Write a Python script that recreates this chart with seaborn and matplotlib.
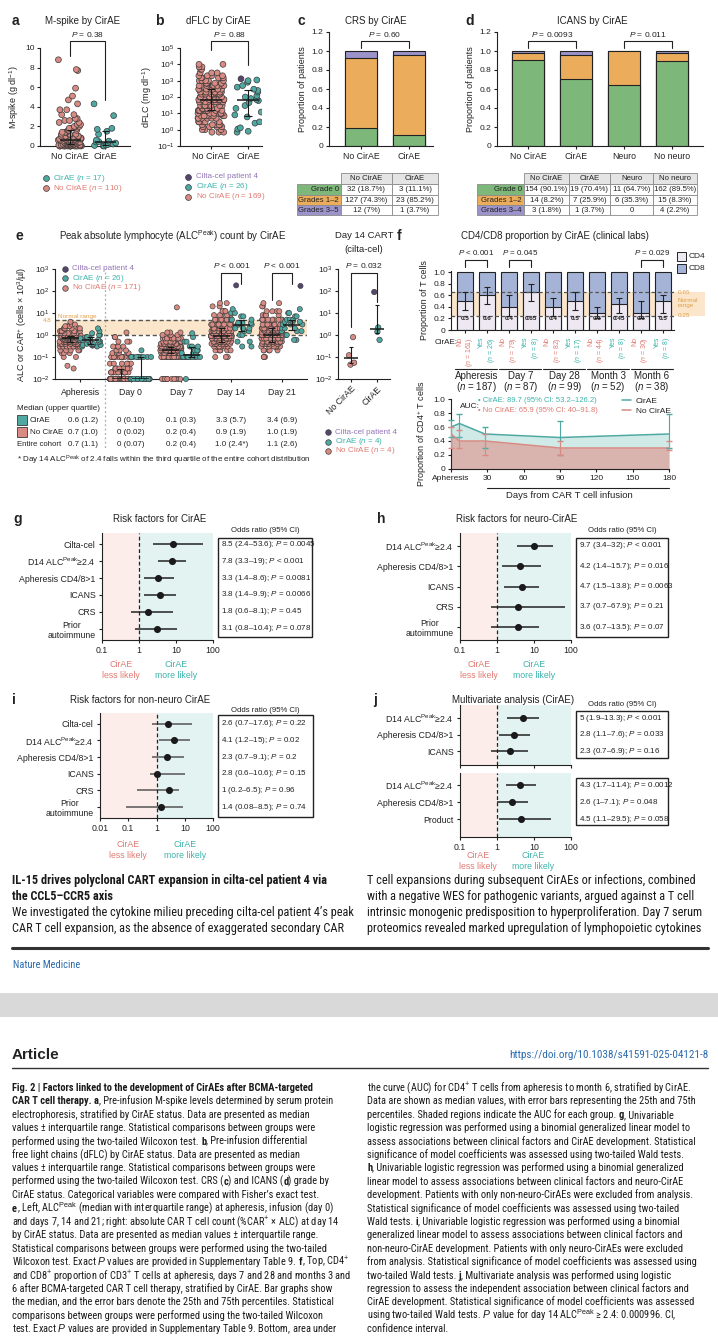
import numpy as np
import pandas as pd
import matplotlib
matplotlib.use("Agg")
import matplotlib.pyplot as plt
import matplotlib.colors as mcolors
import matplotlib.ticker as mticker
from matplotlib.lines import Line2D
from matplotlib.patches import Rectangle
from matplotlib.transforms import blended_transform_factory as blend
from matplotlib import font_manager
import seaborn as sns

W, H = 718, 1338

# colours
ROSE, ROSE_T = "#D98A82", "#E07A72"
TEAL, TEAL_T = "#4FA9A2", "#3DB3AB"
PURP, PURP_T = "#55466F", "#9275B8"
EDGE = "#3a3a3a"
G0C, G12C, G35C = "#7DB77A", "#EBAD5C", "#9C93CB"
CD4C, CD8C = "#EEE8F2", "#A5B3D7"
NORM, NORM_T = "#FBE6CB", "#E0A048"
PINK_BG, TEAL_BG = "#FCEDEA", "#E2F3F1"

# ---------------- data ----------------
# a: M-spike (g/dl)
a_no_vals = [0.0, 0.1, 0.2, 0.3, 0.4, 0.5, 0.6, 0.7, 0.8, 1.0, 1.2, 1.4, 1.6, 1.8,
             2.0, 2.2, 2.4, 2.6, 2.8, 3.2, 3.7, 4.3, 4.7, 5.1, 5.9, 7.7, 7.8, 8.8]
a_no_counts = [17, 10, 8, 7, 6, 6, 5, 5, 4, 5, 4, 4, 3, 3, 3, 2, 2, 2, 2, 2, 2,
               1, 1, 1, 1, 1, 1, 1]
a_yes = [0.0, 0.0, 0.05, 0.1, 0.15, 0.2, 0.3, 0.4, 0.45, 0.5, 0.6, 1.2, 1.5, 1.7,
         1.8, 3.1, 4.3]

# b: dFLC (mg/dl)
b_no_vals = [0.7, 1, 1.5, 2, 3, 5, 7, 10, 15, 20, 30, 50, 70, 100, 150, 200, 300,
             500, 700, 1000, 1500, 2000, 3000, 5000, 7000, 10000]
b_no_counts = [3, 3, 4, 5, 5, 7, 7, 8, 9, 9, 10, 11, 11, 10, 10, 9, 9, 8, 7, 6, 5,
               4, 3, 2, 2, 2]
b_yes = [0.7, 0.8, 1.1, 1.3, 2.5, 3, 6, 8, 12, 20, 30, 45, 60, 70, 80, 100, 120,
         200, 250, 300, 400, 500, 800, 1000, 1100, 1300]
b_patient = [1300]

# c / d: CRS and ICANS grades (patients)
c_groups = ["No CirAE", "CirAE"]
c_grade0 = [32, 3]
c_grade12 = [127, 23]
c_grade35 = [12, 1]
d_groups = ["No CirAE", "CirAE", "Neuro", "No neuro"]
d_grade0 = [154, 19, 11, 162]
d_grade12 = [14, 7, 6, 15]
d_grade34 = [3, 1, 0, 4]

# e: ALC peak (value -> count), per timepoint
e_times = ["Apheresis", "Day 0", "Day 7", "Day 14", "Day 21"]
e_no = {
    "Apheresis": ([0.03, 0.04, 0.1, 0.15, 0.2, 0.3, 0.4, 0.5, 0.6, 0.7, 0.8, 0.9, 1.0,
                   1.2, 1.5, 2.0, 2.5, 3.0, 4.0],
                  [1, 1, 2, 3, 5, 10, 14, 18, 20, 22, 20, 15, 12, 10, 7, 5, 3, 2, 1]),
    "Day 0": ([0.01, 0.02, 0.03, 0.05, 0.1, 0.15, 0.2, 0.3, 0.5, 0.8, 1.3],
              [110, 15, 8, 6, 12, 5, 5, 4, 3, 2, 1]),
    "Day 7": ([0.01, 0.1, 0.15, 0.2, 0.25, 0.3, 0.4, 0.5, 0.7, 1.0, 1.3, 18],
              [12, 30, 25, 25, 20, 18, 15, 10, 8, 4, 3, 1]),
    "Day 14": ([0.1, 0.2, 0.3, 0.4, 0.5, 0.7, 0.9, 1.2, 1.5, 2, 3, 5, 8, 12, 20, 28],
               [3, 6, 10, 12, 15, 20, 22, 20, 16, 14, 12, 8, 5, 4, 2, 2]),
    "Day 21": ([0.1, 0.2, 0.3, 0.4, 0.5, 0.7, 1.0, 1.3, 1.6, 2, 3, 5, 8, 12, 20, 28],
               [3, 5, 9, 12, 15, 20, 24, 20, 16, 14, 12, 8, 5, 4, 2, 2]),
}
e_yes = {
    "Apheresis": ([0.3, 0.33, 0.35, 0.4, 0.5, 0.6, 0.7, 0.8, 1.0, 1.2, 1.5, 2.0],
                  [2, 1, 2, 3, 4, 4, 3, 2, 2, 1, 1, 1]),
    "Day 0": ([0.01, 0.1, 0.2], [15, 10, 1]),
    "Day 7": ([0.01, 0.1, 0.15, 0.2, 0.3, 0.5, 0.8, 1.2], [1, 12, 3, 3, 3, 2, 1, 1]),
    "Day 14": ([0.3, 0.5, 1.0, 1.5, 2.0, 3.0, 3.5, 5.0, 7.0, 10.0, 15.0, 180],
               [2, 2, 2, 2, 3, 3, 3, 3, 2, 2, 1, 1]),
    "Day 21": ([0.6, 1.0, 1.5, 2.0, 3.0, 4.0, 5.0, 7.0, 10.0, 15.0, 170],
               [2, 2, 3, 3, 4, 3, 3, 2, 2, 1, 1]),
}
e_patient = [0.33, 180, 170]
e_tab_cir = ["0.6 (1.2)", "0 (0.10)", "0.1 (0.3)", "3.3 (5.7)", "3.4 (6.9)"]
e_tab_no = ["0.7 (1.0)", "0 (0.02)", "0.2 (0.4)", "0.9 (1.9)", "1.0 (1.9)"]
e_tab_all = ["0.7 (1.1)", "0 (0.07)", "0.2 (0.4)", "1.0 (2.4*)", "1.1 (2.6)"]
# e right: day 14 CAR T count
er_no = [0.045, 0.055, 0.12, 0.8]
er_yes = [0.6, 1.4, 2.2, 90]
er_patient = [90]

# f top: CD4 proportion (median, quartiles)
f_groups = ["Apheresis", "Day 7", "Day 28", "Month 3", "Month 6"]
f_group_n = [187, 87, 99, 52, 38]
f_no_n = [161, 79, 82, 44, 30]
f_yes_n = [26, 8, 17, 8, 8]
f_cd4_no = [0.5, 0.4, 0.4, 0.3, 0.3]
f_cd4_yes = [0.6, 0.65, 0.5, 0.45, 0.5]
f_q1_no = [0.35, 0.25, 0.25, 0.2, 0.2]
f_q3_no = [0.65, 0.6, 0.55, 0.4, 0.5]
f_q1_yes = [0.45, 0.5, 0.35, 0.3, 0.3]
f_q3_yes = [0.75, 0.8, 0.65, 0.55, 0.6]
# f bottom: CD4 over time
f_days = [0, 7, 28, 90, 180]
f_cir_med = [0.6, 0.65, 0.5, 0.45, 0.5]
f_cir_lo = [0.45, 0.45, 0.3, 0.2, 0.3]
f_cir_hi = [0.7, 0.78, 0.6, 0.68, 0.78]
f_nocir_med = [0.5, 0.4, 0.4, 0.3, 0.3]
f_nocir_lo = [0.3, 0.3, 0.2, 0.2, 0.27]
f_nocir_hi = [0.6, 0.55, 0.5, 0.4, 0.4]

# g-j: odds ratios
D14 = "D14 ALC$^{\\rm Peak}$≥2.4"
g_labels = ["Cilta-cel", D14, "Apheresis CD4/8>1", "ICANS", "CRS", "Prior\nautoimmune"]
g_or = [8.5, 7.8, 3.3, 3.8, 1.8, 3.1]
g_lo = [2.4, 3.3, 1.4, 1.4, 0.6, 0.8]
g_hi = [53.6, 19, 8.6, 9.9, 8.1, 10.4]
g_p = ["= 0.0045", "< 0.001", "= 0.0081", "= 0.0066", "= 0.45", "= 0.078"]

h_labels = [D14, "Apheresis CD4/8>1", "ICANS", "CRS", "Prior\nautoimmune"]
h_or = [9.7, 4.2, 4.7, 3.7, 3.6]
h_lo = [3.4, 1.4, 1.5, 0.7, 0.7]
h_hi = [32, 15.7, 13.8, 67.9, 13.5]
h_p = ["< 0.001", "= 0.016", "= 0.0063", "= 0.21", "= 0.07"]

i_labels = g_labels
i_or = [2.6, 4.1, 2.3, 1, 2.8, 1.4]          # as plotted
i_or_txt = [2.6, 4.1, 2.3, 2.8, 1, 1.4]      # as printed in the box
i_lo = [0.7, 1.2, 0.7, 0.6, 0.2, 0.08]
i_hi = [17.6, 15, 9.1, 10.6, 6.5, 8.5]
i_p = ["= 0.22", "= 0.02", "= 0.2", "= 0.15", "= 0.96", "= 0.74"]

j1_labels = [D14, "Apheresis CD4/8>1", "ICANS"]
j1_or = [5, 2.8, 2.3]
j1_lo = [1.9, 1.1, 0.7]
j1_hi = [13.3, 7.6, 6.9]
j1_p = ["< 0.001", "= 0.033", "= 0.16"]
j2_labels = [D14, "Apheresis CD4/8>1", "Product"]
j2_or = [4.3, 2.6, 4.5]
j2_lo = [1.7, 1, 1.1]
j2_hi = [11.4, 7.1, 29.5]
j2_p = ["= 0.0012", "= 0.048", "= 0.058"]

# ---------------- text ----------------
body_left = ["**IL-15 drives polyclonal CART expansion in cilta-cel patient 4 via**",
             "**the CCL5–CCR5 axis**",
             "We investigated the cytokine milieu preceding cilta-cel patient 4’s peak",
             "CAR T cell expansion, as the absence of exaggerated secondary CAR"]
body_right = ["T cell expansions during subsequent CirAEs or infections, combined",
              "with a negative WES for pathogenic variants, argued against a T cell",
              "intrinsic monogenic predisposition to hyperproliferation. Day 7 serum",
              "proteomics revealed marked upregulation of lymphopoietic cytokines"]
cap_left = [
    "**Fig. 2 | Factors linked to the development of CirAEs after BCMA-targeted**",
    "**CAR T cell therapy. a**, Pre-infusion M-spike levels determined by serum protein",
    "electrophoresis, stratified by CirAE status. Data are presented as median",
    "values ± interquartile range. Statistical comparisons between groups were",
    "performed using the two-tailed Wilcoxon test. **b**, Pre-infusion differential",
    "free light chains (dFLC) by CirAE status. Data are presented as median",
    "values ± interquartile range. Statistical comparisons between groups were",
    "performed using the two-tailed Wilcoxon test. CRS (**c**) and ICANS (**d**) grade by",
    "CirAE status. Categorical variables were compared with Fisher’s exact test.",
    "**e**, Left, ALC$^{\\rm Peak}$ (median with interquartile range) at apheresis, infusion (day 0)",
    "and days 7, 14 and 21; right: absolute CAR T cell count (%CAR$^{+}$ × ALC) at day 14",
    "by CirAE status. Data are presented as median values ± interquartile range.",
    "Statistical comparisons between groups were performed using the two-tailed",
    "Wilcoxon test. Exact $P$ values are provided in Supplementary Table 9. **f**, Top, CD4$^{+}$",
    "and CD8$^{+}$ proportion of CD3$^{+}$ T cells at apheresis, days 7 and 28 and months 3 and",
    "6 after BCMA-targeted CAR T cell therapy, stratified by CirAE. Bar graphs show",
    "the median, and the error bars denote the 25th and 75th percentiles. Statistical",
    "comparisons between groups were performed using the two-tailed Wilcoxon",
    "test. Exact $P$ values are provided in Supplementary Table 9. Bottom, area under",
]
cap_right = [
    "the curve (AUC) for CD4$^{+}$ T cells from apheresis to month 6, stratified by CirAE.",
    "Data are shown as median values, with error bars representing the 25th and 75th",
    "percentiles. Shaded regions indicate the AUC for each group. **g**, Univariable",
    "logistic regression was performed using a binomial generalized linear model to",
    "assess associations between clinical factors and CirAE development. Statistical",
    "significance of model coefficients was assessed using two-tailed Wald tests.",
    "**h**, Univariable logistic regression was performed using a binomial generalized",
    "linear model to assess associations between clinical factors and neuro-CirAE",
    "development. Patients with only non-neuro-CirAEs were excluded from analysis.",
    "Statistical significance of model coefficients was assessed using two-tailed",
    "Wald tests. **i**, Univariable logistic regression was performed using a binomial",
    "generalized linear model to assess associations between clinical factors and",
    "non-neuro-CirAE development. Patients with only neuro-CirAEs were excluded",
    "from analysis. Statistical significance of model coefficients was assessed using",
    "two-tailed Wald tests. **j**, Multivariate analysis was performed using logistic",
    "regression to assess the independent association between clinical factors and",
    "CirAE development. Statistical significance of model coefficients was assessed",
    "using two-tailed Wald tests. $P$ value for day 14 ALC$^{\\rm Peak}$ ≥ 2.4: 0.000996. CI,",
    "confidence interval.",
]

# ---------------- setup ----------------
sns.set_theme(style="ticks")
plt.rcParams["font.family"] = ["Liberation Sans", "DejaVu Sans"]
plt.rcParams.update({
    "mathtext.fontset": "custom", "mathtext.rm": "Liberation Sans",
    "mathtext.it": "Liberation Sans:italic", "mathtext.bf": "Liberation Sans:bold",
    "axes.linewidth": 0.8, "axes.edgecolor": "#222222",
    "xtick.color": "#222222", "ytick.color": "#222222",
    "text.color": "#222222", "axes.labelcolor": "#222222",
})


def pick_narrow():
    names = {f.name for f in font_manager.fontManager.ttflist}
    for n in ("Liberation Sans Narrow", "DejaVu Sans Condensed", "Roboto Condensed",
              "Open Sans Condensed", "Noto Sans Condensed"):
        if n in names:
            return n, "normal"
    for pref in ("Noto Sans", "Open Sans", "Roboto", "DejaVu Sans"):
        for f in font_manager.fontManager.ttflist:
            if f.name == pref and str(f.stretch) in ("condensed", "semi-condensed") \
                    and f.style == "normal":
                return pref, str(f.stretch)
    return "Liberation Sans", "normal"


NARROW, NSTRETCH = pick_narrow()

np.random.seed(7)
fig = plt.figure(figsize=(W / 100, H / 100), dpi=100)
fig.patch.set_facecolor("white")
renderer = fig.canvas.get_renderer()


def add_ax(x0, y0, x1, y1):
    return fig.add_axes([x0 / W, 1 - y1 / H, (x1 - x0) / W, (y1 - y0) / H])


def fy(y):
    return 1 - y / H


def ftext(x, y, s, **kw):
    kw.setdefault("fontsize", 6)
    return fig.text(x / W, fy(y), s, **kw)


def frect(x0, y0, x1, y1, **kw):
    fig.add_artist(Rectangle((x0 / W, fy(y1)), (x1 - x0) / W, (y1 - y0) / H,
                             transform=fig.transFigure, **kw))


def fline(xs, ys, **kw):
    fig.add_artist(Line2D([x / W for x in xs], [fy(y) for y in ys],
                          transform=fig.transFigure, **kw))


def fdot(x, y, fc, marker="o", ms=4.2):
    fig.add_artist(Line2D([x / W], [fy(y)], transform=fig.transFigure, marker=marker,
                          ms=ms, mfc=fc, mec=EDGE, mew=0.5, ls=""))


def style(ax, fs=6):
    sns.despine(ax=ax)
    ax.tick_params(labelsize=fs, length=2.5, width=0.8, pad=1.5)


def letter(x, y, s):
    ftext(x, y, s, fontsize=10, fontweight="bold", va="center")


def title(x, y, s, fs=7):
    ftext(x, y, s, fontsize=fs, ha="center", va="center")


def bracket(ax, x1, x2, ytop, yl, yr, txt, ty, fs=6):
    ax.plot([x1, x1, x2, x2], [yl, ytop, ytop, yr], color="#222222", lw=0.8,
            clip_on=False)
    ax.text((x1 + x2) / 2, ty, txt, ha="center", va="center", fontsize=fs,
            clip_on=False)


def med_iqr(ax, x, vals, hw=0.2, cap=0.07, lw=1.1):
    q1, med, q3 = np.percentile(vals, [25, 50, 75])
    ax.hlines(med, x - hw, x + hw, color="k", lw=lw, zorder=6)
    ax.vlines(x, q1, q3, color="k", lw=0.8, zorder=6)
    ax.hlines([q1, q3], x - cap, x + cap, color="k", lw=0.8, zorder=6)


def recolor(ax, base, values, color):
    base_rgb = np.array(mcolors.to_rgb(base))
    for coll in ax.collections:
        off = np.asarray(coll.get_offsets())
        fc = coll.get_facecolors()
        if len(off) == 0 or len(fc) == 0:
            continue
        if not np.allclose(fc[0][:3], base_rgb, atol=0.03):
            continue
        hit = np.isin(np.round(off[:, 1], 5), np.round(values, 5))
        if hit.any():
            fc = np.repeat(fc[:1], len(off), axis=0) if len(fc) == 1 else fc.copy()
            fc[hit] = mcolors.to_rgba(color)
            coll.set_facecolors(fc)
            coll.set_zorder(5)


PAL = {"No CirAE": ROSE, "CirAE": TEAL}

# ---------------- a ----------------
letter(12, 21, "a")
title(83, 21, "M-spike by CirAE")
axA = add_ax(40, 48, 130, 146)
a_no = np.repeat(a_no_vals, a_no_counts)
dfa = pd.DataFrame({"grp": ["No CirAE"] * len(a_no) + ["CirAE"] * len(a_yes),
                    "val": np.r_[a_no, a_yes]})
sns.stripplot(data=dfa, x="grp", y="val", hue="grp", order=c_groups, palette=PAL,
              jitter=0.34, size=4.2, linewidth=0.5, edgecolor=EDGE, legend=False, ax=axA)
for c in axA.collections:
    c.set_clip_on(False)
med_iqr(axA, 0, a_no, hw=0.3, cap=0.1)
med_iqr(axA, 1, a_yes, hw=0.3, cap=0.1)
axA.set_xlim(-0.86, 1.71)
axA.set_ylim(0, 10)
axA.set_yticks([0, 2, 4, 6, 8, 10])
axA.set_xlabel("")
axA.set_ylabel("M-spike (g dl$^{-1}$)", fontsize=6.5, labelpad=3)
style(axA)
axA.tick_params(axis="x", labelsize=6.5)
bracket(axA, 0, 1, 10.7, 9.2, 4.7, "$P$ = 0.38", 11.35)
fdot(46, 178, TEAL)
ftext(53, 178, "CirAE ($n$ = 17)", color=TEAL_T, va="center", fontsize=5.8)
fdot(46, 188, ROSE)
ftext(53, 188, "No CirAE ($n$ = 110)", color=ROSE_T, va="center", fontsize=5.8)

# ---------------- b ----------------
letter(155, 21, "b")
title(218, 21, "dFLC by CirAE")
axB = add_ax(180, 48, 262, 146)
b_no = np.repeat(b_no_vals, b_no_counts)
dfb = pd.DataFrame({"grp": ["No CirAE"] * len(b_no) + ["CirAE"] * len(b_yes),
                    "val": np.r_[b_no, b_yes]})
sns.stripplot(data=dfb, x="grp", y="val", hue="grp", order=c_groups, palette=PAL,
              jitter=0.36, size=4.2, linewidth=0.5, edgecolor=EDGE, legend=False, ax=axB)
recolor(axB, TEAL, b_patient, PURP)
axB.set_yscale("log")
med_iqr(axB, 0, b_no, hw=0.3, cap=0.1)
med_iqr(axB, 1, b_yes, hw=0.3, cap=0.1)
axB.set_xlim(-0.84, 1.38)
axB.set_ylim(0.1, 1e5)
axB.set_yticks([1e-1, 1, 10, 100, 1e3, 1e4, 1e5])
axB.yaxis.set_minor_locator(mticker.NullLocator())
axB.set_xlabel("")
axB.set_ylabel("dFLC (mg dl$^{-1}$)", fontsize=6.5, labelpad=2)
style(axB)
axB.tick_params(axis="x", labelsize=6.5)
bracket(axB, 0, 1, 10 ** 5.43, 10 ** 4.88, 10 ** 3.96, "$P$ = 0.88", 10 ** 5.8)
for k, (lab, fc, tc) in enumerate([("Cilta-cel patient 4", PURP, PURP_T),
                                   ("CirAE ($n$ = 26)", TEAL, TEAL_T),
                                   ("No CirAE ($n$ = 169)", ROSE, ROSE_T)]):
    fdot(188, 177 + 10 * k, fc)
    ftext(196, 177 + 10 * k, lab, color=tc, va="center", fontsize=5.8)


# ---------------- c / d ----------------
def pct(n, tot):
    if n == 0:
        return "0"
    s = f"{100 * n / tot:.1f}".rstrip("0").rstrip(".")
    return f"{n} ({s}%)"


def stacked(ax, groups, g0, g12, g3):
    tot = np.array(g0) + np.array(g12) + np.array(g3)
    p0 = np.array(g0) / tot
    p12 = np.array(g12) / tot
    p3 = np.array(g3) / tot
    for vals, col in [(p0 + p12 + p3, G35C), (p0 + p12, G12C), (p0, G0C)]:
        sns.barplot(x=groups, y=vals, color=col, saturation=1, width=0.67,
                    edgecolor="#222222", linewidth=0.8, errorbar=None, ax=ax)
    ax.set_ylim(0, 1.2)
    ax.set_yticks([0, 0.2, 0.4, 0.6, 0.8, 1.0, 1.2])
    ax.set_yticklabels(["0", "0.2", "0.4", "0.6", "0.8", "1.0", "1.2"])
    ax.set_ylabel("Proportion of patients", fontsize=6.5, labelpad=3)
    style(ax)
    ax.tick_params(axis="x", labelsize=6.3)
    return tot


def table(xs, ys, header, labels, lcolors, rows, fs=5.6):
    for k, h in enumerate(header):
        frect(xs[k + 1], ys[0], xs[k + 2], ys[1], fc="#E4E4E4", ec="#8a8a8a", lw=0.6)
        ftext((xs[k + 1] + xs[k + 2]) / 2, (ys[0] + ys[1]) / 2 + 0.5, h, ha="center",
              va="center", fontsize=fs)
    for r, (lab, col, vals) in enumerate(zip(labels, lcolors, rows)):
        y0, y1 = ys[r + 1], ys[r + 2]
        frect(xs[0], y0, xs[1], y1, fc=col, ec="#8a8a8a", lw=0.6)
        ftext(xs[1] - 2, (y0 + y1) / 2 + 0.5, lab, ha="right", va="center", fontsize=fs)
        for k, v in enumerate(vals):
            frect(xs[k + 1], y0, xs[k + 2], y1, fc="white", ec="#8a8a8a", lw=0.6)
            ftext((xs[k + 1] + xs[k + 2]) / 2, (y0 + y1) / 2 + 0.5, v, ha="center",
                  va="center", fontsize=fs)


letter(298, 21, "c")
title(376, 21, "CRS by CirAE")
axC = add_ax(329, 32, 433, 146)
c_tot = stacked(axC, c_groups, c_grade0, c_grade12, c_grade35)
axC.set_xlim(-0.67, 1.5)
bracket(axC, 0, 1, 1.105, 1.035, 1.035, "$P$ = 0.60", 1.17)
table([297, 341, 392, 438], [173, 184, 194.5, 204.5, 214.5], c_groups,
      ["Grade 0", "Grades 1–2", "Grades 3–5"], [G0C, G12C, G35C],
      [[pct(n, t) for n, t in zip(g, c_tot)] for g in (c_grade0, c_grade12, c_grade35)])

letter(465, 21, "d")
title(592, 21, "ICANS by CirAE")
axD = add_ax(497, 32, 703, 146)
d_tot = stacked(axD, d_groups, d_grade0, d_grade12, d_grade34)
axD.set_xlim(-0.65, 3.65)
bracket(axD, 0, 1, 1.105, 1.035, 1.035, "$P$ = 0.0093", 1.17)
bracket(axD, 2, 3, 1.105, 1.035, 1.035, "$P$ = 0.011", 1.17)
table([477, 524, 569, 610, 653, 697], [173, 184, 194.5, 204.5, 214.5], d_groups,
      ["Grade 0", "Grades 1–2", "Grades 3–4"], [G0C, G12C, G35C],
      [[pct(n, t) for n, t in zip(g, d_tot)] for g in (d_grade0, d_grade12, d_grade34)])

# ---------------- e ----------------
letter(15, 236, "e")
title(173, 236, "Peak absolute lymphocyte (ALC$^{\\rm Peak}$) count by CirAE")
axE = add_ax(55, 269, 307, 379)
rows = []
for t in e_times:
    for grp, src in (("No CirAE", e_no), ("CirAE", e_yes)):
        v, n = src[t]
        for val in np.repeat(v, n):
            rows.append((t, grp, val))
dfe = pd.DataFrame(rows, columns=["time", "grp", "val"])
axE.axhspan(1.0, 4.8, color=NORM, lw=0, zorder=0)
sns.stripplot(data=dfe, x="time", y="val", hue="grp", order=e_times,
              hue_order=["No CirAE", "CirAE"], dodge=True, palette=PAL, jitter=0.42,
              size=3.7, linewidth=0.45, edgecolor=EDGE, legend=False, ax=axE)
recolor(axE, TEAL, e_patient, PURP)
for c in axE.collections:
    c.set_clip_on(False)
axE.set_yscale("log")
for i, t in enumerate(e_times):
    sub = dfe[dfe.time == t]
    med_iqr(axE, i - 0.2, sub[sub.grp == "No CirAE"].val.values, hw=0.17, cap=0.07)
    med_iqr(axE, i + 0.2, sub[sub.grp == "CirAE"].val.values, hw=0.17, cap=0.07)
axE.axhline(4.8, color="#555555", ls=(0, (3, 2)), lw=1.0, zorder=1)
axE.axhline(1.0, color="#555555", ls=(0, (3, 2)), lw=1.0, zorder=1)
axE.axvline(0.5, color="#aaaaaa", ls=(0, (1.5, 2)), lw=0.9, zorder=1)
axE.set_xlim(-0.5, 4.5)
axE.set_ylim(0.01, 1000)
axE.set_yticks([0.01, 0.1, 1, 10, 100, 1000])
axE.yaxis.set_minor_locator(mticker.NullLocator())
axE.set_xlabel("")
axE.set_ylabel("ALC or CAR$^{+}$ (cells × 10$^{3}$/µl)", fontsize=6.5, labelpad=2)
style(axE)
axE.tick_params(axis="x", labelsize=6.3, pad=4)
axE.text(-0.012, 4.6, "4.8", transform=blend(axE.transAxes, axE.transData), ha="right",
         va="center", fontsize=4.5, color=NORM_T)
axE.text(0.01, 6.6, "Normal range", transform=blend(axE.transAxes, axE.transData),
         ha="left", va="center", fontsize=4.6, color=NORM_T)
for i in (3, 4):
    bracket(axE, i - 0.2, i + 0.2, 10 ** 2.82, 10 ** 1.59, 10 ** 2.32, "$P$ < 0.001",
            10 ** 3.16)
tr = blend(axE.transData, fig.transFigure)
axE.add_line(Line2D([0.5, 0.5], [fy(380), fy(448)], transform=tr, color="#aaaaaa",
                    ls=(0, (1.5, 2)), lw=0.9, clip_on=False))
for k, (lab, fc, tc) in enumerate([("Cilta-cel patient 4", PURP, PURP_T),
                                   ("CirAE ($n$ = 26)", TEAL, TEAL_T),
                                   ("No CirAE ($n$ = 171)", ROSE, ROSE_T)]):
    fdot(65, 269 + 9.3 * k, fc, ms=4)
    ftext(72, 269 + 9.3 * k, lab, color=tc, va="center", fontsize=5.8)
# table under e
ftext(17, 409, "Median (upper quartile)", va="center", fontsize=5.8)
frect(17, 415, 27, 425, fc=TEAL, ec=EDGE, lw=0.6)
ftext(30, 420, "CirAE", va="center", fontsize=5.8)
frect(17, 427, 27, 437, fc=ROSE, ec=EDGE, lw=0.6)
ftext(30, 432, "No CirAE", va="center", fontsize=5.8)
ftext(17, 444, "Entire cohort", va="center", fontsize=5.6)
for i in range(len(e_times)):
    for yy, vals in ((420, e_tab_cir), (432, e_tab_no), (444, e_tab_all)):
        axE.text(i + (0.06 if i == 0 else 0), fy(yy), vals[i], transform=tr,
                 ha="center", va="center", fontsize=5.8, clip_on=False)
ftext(17, 460, "* Day 14 ALC$^{\\rm Peak}$ of 2.4 falls within the third quartile of the "
      "entire cohort distribution", va="center", fontsize=5.8)

# e right
title(364, 236, "Day 14 CART", fs=6.8)
title(364, 249, "(cilta-cel)", fs=6.8)
axR = add_ax(338, 269, 390, 379)
dfr = pd.DataFrame({"grp": ["No CirAE"] * len(er_no) + ["CirAE"] * len(er_yes),
                    "val": np.r_[er_no, er_yes]})
sns.stripplot(data=dfr, x="grp", y="val", hue="grp", order=c_groups, palette=PAL,
              jitter=0.12, size=3.9, linewidth=0.45, edgecolor=EDGE, legend=False, ax=axR)
recolor(axR, TEAL, er_patient, PURP)
axR.set_yscale("log")
med_iqr(axR, 0, er_no, hw=0.28, cap=0.08)
med_iqr(axR, 1, er_yes, hw=0.28, cap=0.08)
axR.set_xlim(-0.5, 1.5)
axR.set_ylim(0.01, 1000)
axR.set_yticks([0.01, 0.1, 1, 10, 100, 1000])
axR.yaxis.set_minor_locator(mticker.NullLocator())
axR.set_xlabel("")
axR.set_ylabel("")
style(axR)
axR.set_xticks([0, 1])
axR.set_xticklabels(c_groups, rotation=45, ha="right", rotation_mode="anchor",
                    fontsize=6.3)
bracket(axR, 0, 1, 10 ** 2.82, 10 ** 0.36, 10 ** 1.5, "$P$ = 0.032", 10 ** 3.14)
for k, (lab, fc, tc) in enumerate([("Cilta-cel patient 4", PURP, PURP_T),
                                   ("CirAE ($n$ = 4)", TEAL, TEAL_T),
                                   ("No CirAE ($n$ = 4)", ROSE, ROSE_T)]):
    fdot(328, 432 + 9.5 * k, fc, ms=4)
    ftext(335, 432 + 9.5 * k, lab, color=tc, va="center", fontsize=5.8)

# ---------------- f top ----------------
letter(397, 236, "f")
title(555, 236, "CD4/CD8 proportion by CirAE (clinical labs)")
axF = add_ax(451, 271, 674, 330)
f_cats, f_cd4, f_q1, f_q3 = [], [], [], []
for g, a, b, q1a, q1b, q3a, q3b in zip(f_groups, f_cd4_no, f_cd4_yes, f_q1_no, f_q1_yes,
                                       f_q3_no, f_q3_yes):
    f_cats += [g + " No", g + " Yes"]
    f_cd4 += [a, b]
    f_q1 += [q1a, q1b]
    f_q3 += [q3a, q3b]
f_cd4 = np.array(f_cd4)
f_cd8 = 1 - f_cd4
axF.add_patch(Rectangle((0, 0.25), 1.14, 0.4, transform=blend(axF.transAxes, axF.transData),
                        fc=NORM, lw=0, zorder=0, clip_on=False))
sns.barplot(x=f_cats, y=f_cd4 + f_cd8, color=CD8C, saturation=1, width=0.72,
            edgecolor="#222222", linewidth=0.8, errorbar=None, ax=axF)
sns.barplot(x=f_cats, y=f_cd4, color=CD4C, saturation=1, width=0.72,
            edgecolor="#222222", linewidth=0.8, errorbar=None, ax=axF)
xs_f = np.arange(len(f_cats))
axF.errorbar(xs_f, f_cd4, yerr=[f_cd4 - np.array(f_q1), np.array(f_q3) - f_cd4],
             fmt="none", ecolor="#222222", elinewidth=0.8, capsize=2.3, capthick=0.8,
             zorder=5)
for x, v in zip(xs_f, f_cd4):
    axF.text(x, 0.2, f"{v:g}", ha="center", va="center", fontsize=4.6,
             fontweight="bold", zorder=6)
axF.axhline(0.65, color="#555555", ls=(0, (3, 2)), lw=0.9, zorder=4)
axF.axhline(0.25, color="#555555", ls=(0, (3, 2)), lw=0.9, zorder=4)
axF.set_xlim(-0.65, 9.5)
axF.set_ylim(0, 1.02)
axF.set_yticks([0, 0.2, 0.4, 0.6, 0.8, 1.0])
axF.set_yticklabels(["0", "0.2", "0.4", "0.6", "0.8", "1.0"])
axF.set_xticklabels([])
axF.set_ylabel("Proportion of T cells", fontsize=6.5, labelpad=3)
style(axF)
axF.tick_params(axis="x", length=2)
for (i0, i1), ptxt in zip([(0, 1), (2, 3), (8, 9)],
                          ["$P$ < 0.001", "$P$ = 0.045", "$P$ = 0.029"]):
    bracket(axF, i0, i1, 1.21, 1.09, 1.09, ptxt, 1.34, fs=5.8)
trF = blend(axF.transData, fig.transFigure)
ftext(678, 292, "0.65", fontsize=4.6, color=NORM_T, va="center")
ftext(678, 303, "Normal\nrange", fontsize=4.6, color=NORM_T, va="center",
      linespacing=0.95)
ftext(678, 315.5, "0.25", fontsize=4.6, color=NORM_T, va="center")
frect(677, 252, 686, 261, fc=CD4C, ec="#222222", lw=0.7)
ftext(689, 256.5, "CD4", fontsize=6, va="center")
frect(677, 264, 686, 273, fc=CD8C, ec="#222222", lw=0.7)
ftext(689, 268.5, "CD8", fontsize=6, va="center")
ftext(435, 342, "CirAE:", fontsize=5.8, va="center")
for k, g in enumerate(f_groups):
    x_no, x_yes = 2 * k, 2 * k + 1
    axF.text(x_no, fy(337), f"No\n($n$ = {f_no_n[k]})", transform=trF, rotation=90,
             ha="center", va="top", multialignment="right", fontsize=5.0,
             color=ROSE_T, linespacing=1.1, clip_on=False)
    axF.text(x_yes, fy(337), f"Yes\n($n$ = {f_yes_n[k]})", transform=trF, rotation=90,
             ha="center", va="top", multialignment="right", fontsize=5.0,
             color=TEAL_T, linespacing=1.1, clip_on=False)
    axF.add_line(Line2D([x_no - 0.45, x_yes + 0.45], [fy(369), fy(369)], transform=trF,
                        color="#222222", lw=0.8, clip_on=False))
    axF.text(k * 2 + 0.5, fy(376), g, transform=trF, ha="center", va="center",
             fontsize=7, clip_on=False)
    axF.text(k * 2 + 0.5, fy(387), f"($n$ = {f_group_n[k]})", transform=trF,
             ha="center", va="center", fontsize=7, clip_on=False)

# ---------------- f bottom ----------------
axG = add_ax(451, 399, 669, 469)
axG.fill_between(f_days, f_cir_med, color="#CFEAE7", lw=0, zorder=1)
axG.fill_between(f_days, f_nocir_med, color="#D9B4AE", lw=0, zorder=2)
sns.lineplot(x=f_days, y=f_cir_med, color=TEAL, lw=1.1, ax=axG, zorder=4)
sns.lineplot(x=f_days, y=f_nocir_med, color=ROSE, lw=1.1, ax=axG, zorder=4)
axG.errorbar(f_days, f_cir_med,
             yerr=[np.subtract(f_cir_med, f_cir_lo), np.subtract(f_cir_hi, f_cir_med)],
             fmt="none", ecolor=TEAL, elinewidth=0.8, capsize=2, zorder=5, clip_on=False)
axG.errorbar(f_days, f_nocir_med,
             yerr=[np.subtract(f_nocir_med, f_nocir_lo), np.subtract(f_nocir_hi, f_nocir_med)],
             fmt="none", ecolor=ROSE, elinewidth=0.8, capsize=2, zorder=5, clip_on=False)
axG.set_xlim(0, 180)
axG.set_ylim(0, 1.0)
axG.set_xticks([0, 30, 60, 90, 120, 150, 180])
axG.set_xticklabels(["Apheresis", "30", "60", "90", "120", "150", "180"])
axG.set_yticks([0, 0.2, 0.4, 0.6, 0.8, 1.0])
axG.set_yticklabels(["0", "0.2", "0.4", "0.6", "0.8", "1.0"])
axG.set_ylabel("Proportion of CD4$^{+}$ T cells", fontsize=6.5, labelpad=3)
style(axG)
trG = blend(axG.transData, fig.transFigure)
axG.add_line(Line2D([30, 180], [fy(487.5), fy(487.5)], transform=trG, color="#222222",
                    lw=0.8, clip_on=False))
axG.text(98, fy(495), "Days from CAR T cell infusion", transform=trG, ha="center",
         va="center", fontsize=6.8, clip_on=False)
ftext(460, 407, "AUC:", fontsize=6, va="center")
ftext(478, 401, "• CirAE: 89.7 (95% CI: 53.2–126.2)", fontsize=5.5, color=TEAL_T,
      va="center")
ftext(478, 411, "• No CirAE: 65.9 (95% CI: 40–91.8)", fontsize=5.5, color=ROSE_T,
      va="center")
axG.legend([Line2D([], [], color=TEAL, lw=1.1), Line2D([], [], color=ROSE, lw=1.1)],
           ["CirAE", "No CirAE"], loc="upper left", bbox_to_anchor=(0.77, 1.08),
           frameon=False, fontsize=6, handlelength=1.1, handletextpad=0.5,
           labelspacing=0.3, borderaxespad=0)


# ---------------- forest plots ----------------
def fmt(v):
    return f"{v:g}"


def forest(rect, labels, orv, lo, hi, xlim, xticks, pad=(0.65, 0.65), lc="#222222",
           xlabels=True):
    ax = add_ax(*rect)
    n = len(labels)
    ypos = np.arange(n)
    ax.set_xscale("log")
    ax.axvspan(xlim[0], 1, color=PINK_BG, lw=0, zorder=0)
    ax.axvspan(1, xlim[1], color=TEAL_BG, lw=0, zorder=0)
    ax.hlines(ypos, lo, hi, color=lc, lw=1.1, zorder=2)
    sns.scatterplot(x=orv, y=ypos, color="k", s=26, linewidth=0, zorder=3, ax=ax,
                    legend=False)
    ax.axvline(1, color="#222222", ls=(0, (3, 2)), lw=0.9, zorder=4)
    ax.set_xlim(xlim)
    ax.set_ylim(n - 1 + pad[1], -pad[0])
    ax.set_yticks(ypos)
    ax.set_yticklabels(labels, fontsize=7, linespacing=1.1)
    for tl in ax.get_yticklabels():
        tl.set_multialignment("center")
    ax.set_xticks(xticks)
    ax.xaxis.set_minor_locator(mticker.NullLocator())
    if xlabels:
        ax.set_xticklabels([fmt(t) for t in xticks])
    else:
        ax.set_xticklabels([])
    style(ax, fs=6.3)
    ax.tick_params(axis="y", pad=2)
    return ax


def or_box(ax, x0, x1, y0, y1, orv, lo, hi, pv, fs=5.8):
    frect(x0, y0, x1, y1, fc="none", ec="#222222", lw=1.0)
    tb = blend(fig.transFigure, ax.transData)
    for k in range(len(orv)):
        ax.text((x0 + 3) / W, k, f"{fmt(orv[k])} ({fmt(lo[k])}–{fmt(hi[k])}); $P$ {pv[k]}",
                transform=tb, ha="left", va="center", fontsize=fs, clip_on=False)


def likely(ax, y, xl, xr):
    tb = blend(ax.transData, fig.transFigure)
    ax.text(xl, fy(y), "CirAE\nless likely", transform=tb, ha="center", va="center",
            fontsize=6.3, color=ROSE_T, linespacing=1.2, clip_on=False)
    ax.text(xr, fy(y), "CirAE\nmore likely", transform=tb, ha="center", va="center",
            fontsize=6.3, color=TEAL_T, linespacing=1.2, clip_on=False)


letter(13, 519, "g")
title(160, 519, "Risk factors for CirAE")
axg = forest((102, 533, 213, 640), g_labels, g_or, g_lo, g_hi, (0.1, 100),
             [0.1, 1, 10, 100])
or_box(axg, 218, 312, 538, 637, g_or, g_lo, g_hi, g_p)
ftext(265, 531, "Odds ratio (95% CI)", ha="center", va="center", fontsize=5.6)
likely(axg, 670, 0.32, 10)

letter(377, 519, "h")
title(517, 519, "Risk factors for neuro-CirAE")
axh = forest((460, 533, 571, 640), h_labels, h_or, h_lo, h_hi, (0.1, 100),
             [0.1, 1, 10, 100], pad=(0.64, 0.64))
or_box(axh, 576, 668, 538, 637, h_or, h_lo, h_hi, h_p)
ftext(622, 531, "Odds ratio (95% CI)", ha="center", va="center", fontsize=5.6)
likely(axh, 670, 0.32, 10)

letter(12, 700, "i")
title(140, 700, "Risk factors for non-neuro CirAE")
axi = forest((100, 713, 213, 818), i_labels, i_or, i_lo, i_hi, (0.01, 100),
             [0.01, 0.1, 1, 10, 100], lc="#555555")
or_box(axi, 218, 313, 715, 817, i_or_txt, i_lo, i_hi, i_p)
ftext(265, 711, "Odds ratio (95% CI)", ha="center", va="center", fontsize=5.6)
likely(axi, 850, 0.1, 10)

letter(373, 700, "j")
title(513, 700, "Multivariate analysis (CirAE)")
axj1 = forest((460, 705, 571, 765), j1_labels, j1_or, j1_lo, j1_hi, (0.1, 100),
              [0.1, 1, 10, 100], pad=(0.8, 0.85), xlabels=False)
or_box(axj1, 576, 668, 711, 758, j1_or, j1_lo, j1_hi, j1_p)
axj2 = forest((460, 773, 571, 837), j2_labels, j2_or, j2_lo, j2_hi, (0.1, 100),
              [0.1, 1, 10, 100], pad=(0.72, 1.05))
or_box(axj2, 576, 668, 778, 825, j2_or, j2_lo, j2_hi, j2_p)
ftext(622, 704, "Odds ratio (95% CI)", ha="center", va="center", fontsize=5.6)
likely(axj2, 861, 0.3, 9.5)


# ---------------- page text ----------------
def parse(line):
    return [(p, k % 2 == 1) for k, p in enumerate(line.split("**")) if p]


def wpx(s, size, bold):
    t = fig.text(0, 0, "|" + s + "|", fontsize=size, family=NARROW, stretch=NSTRETCH,
                 fontweight="bold" if bold else "normal")
    w = t.get_window_extent(renderer).width
    t.set_text("||")
    w -= t.get_window_extent(renderer).width
    t.remove()
    return w


def line_w(line, size):
    return sum(wpx(p, size, b) for p, b in parse(line))


def draw_line(x, y, line, size, color="#1a1a1a"):
    cx = x
    for txt, bold in parse(line):
        lead = len(txt) - len(txt.lstrip(" "))
        if lead:
            cx += wpx(" " * lead, size, bold)
            txt = txt.lstrip(" ")
        fig.text(cx / W, fy(y), txt, fontsize=size, family=NARROW, stretch=NSTRETCH,
                 color=color, fontweight="bold" if bold else "normal", va="baseline",
                 ha="left")
        cx += wpx(txt, size, bold)


bsize = min(9.5, 10 * 340 / max(line_w(l, 10) for l in body_left + body_right))
for k, l in enumerate(body_left):
    draw_line(12, 884 + 16 * k, l, bsize)
for k, l in enumerate(body_right):
    draw_line(367, 884 + 16 * k, l, bsize)

fline([12, 708], [948, 948], color="#333333", lw=2.2)
ftext(13, 965, "Nature Medicine", fontsize=7.5, color="#2A6AB0", va="center",
      family=NARROW, stretch=NSTRETCH)
frect(0, 993, W, 1017, fc="#D9D9D9", ec="none")
ftext(12, 1055, "Article", fontsize=11, fontweight="bold", va="center")
ftext(708, 1055, "https://doi.org/10.1038/s41591-025-04121-8", fontsize=8,
      color="#2A6AB0", va="center", ha="right", family=NARROW, stretch=NSTRETCH)
fline([12, 708], [1068, 1068], color="#333333", lw=1.0)

csize = min(7.5, 10 * 345 / max(line_w(l, 10) for l in cap_left + cap_right))
for k, l in enumerate(cap_left):
    draw_line(12, 1091 + 13.4 * k, l, csize)
for k, l in enumerate(cap_right):
    draw_line(367, 1091 + 13.4 * k, l, csize)

fig.savefig("out.png", dpi=100)
